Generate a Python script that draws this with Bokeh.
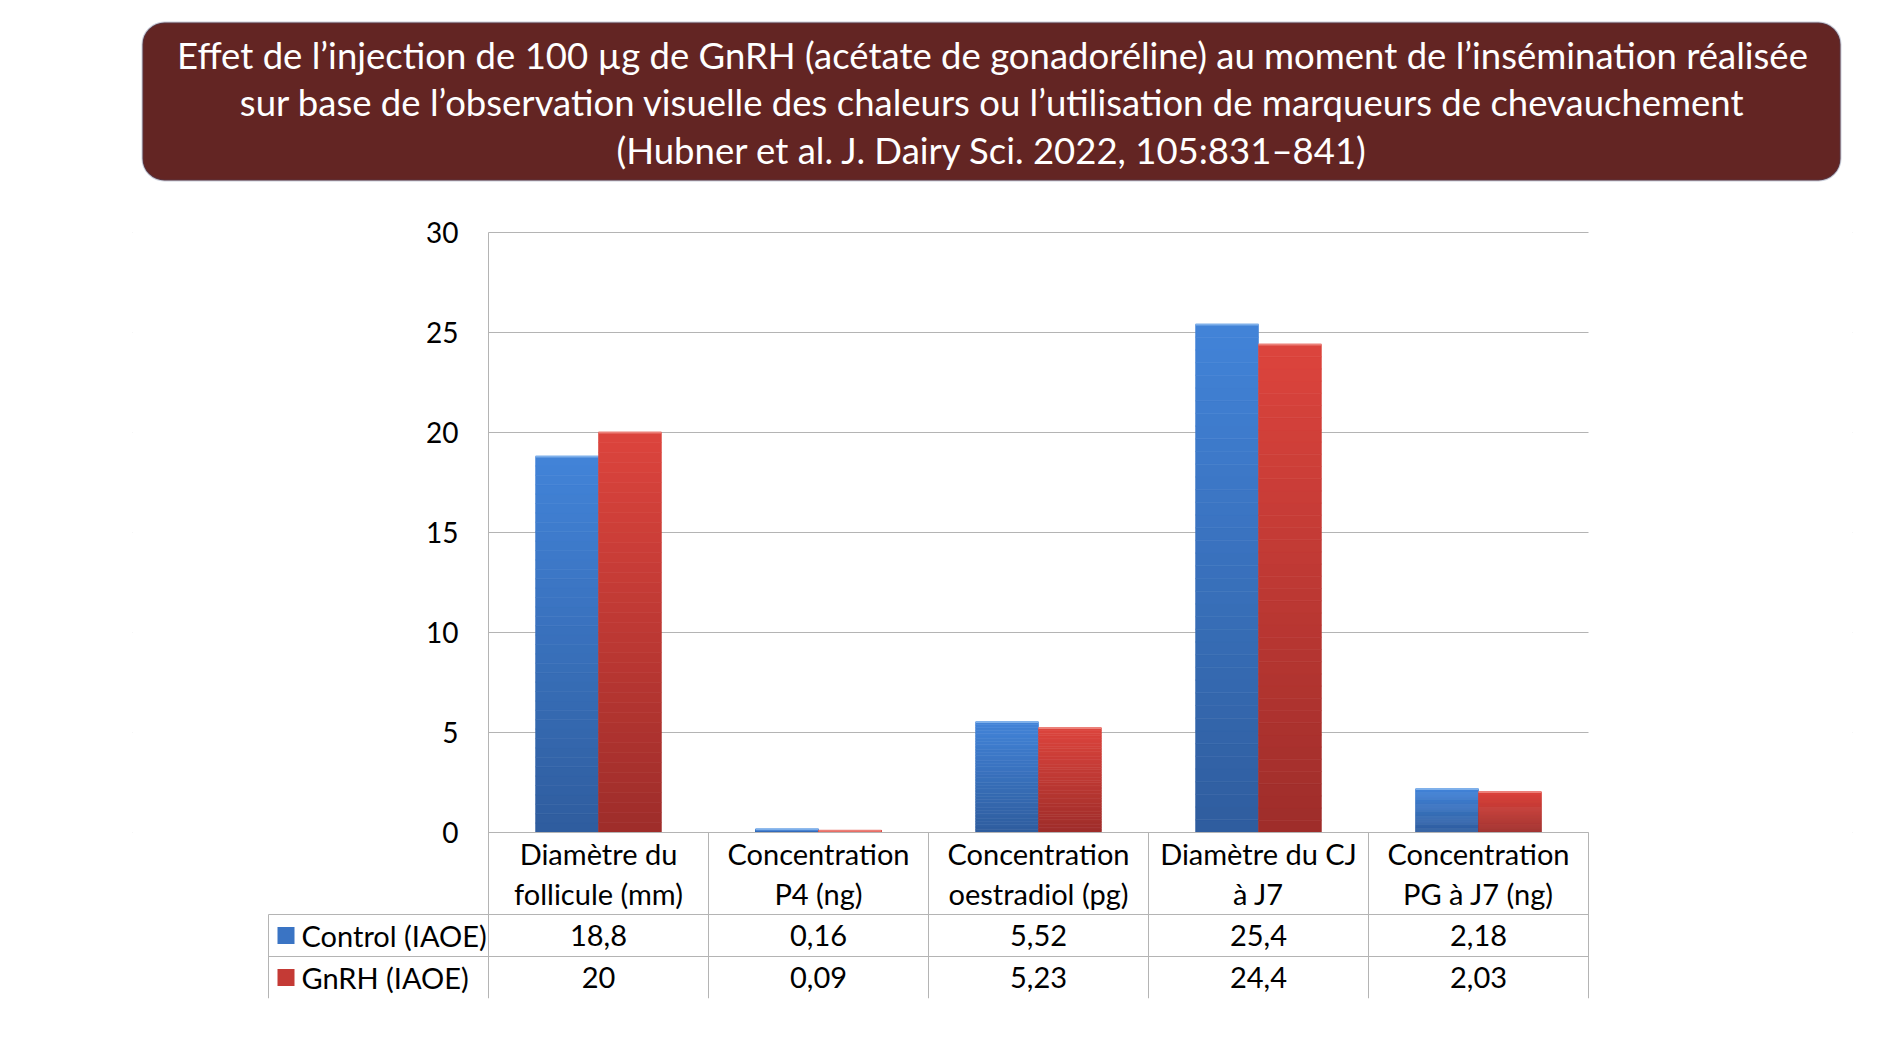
from bokeh.plotting import figure
from bokeh.models import Range1d, FixedTicker, BoxAnnotation, LinearAxis, Grid
from bokeh.embed import file_html
from bokeh.resources import INLINE
from bokeh.core.properties import value

# ---------------- data ----------------
categories = ["Diamètre du\nfollicule (mm)", "Concentration\nP4 (ng)",
              "Concentration\noestradiol (pg)", "Diamètre du CJ\nà J7",
              "Concentration\nPG à J7 (ng)"]
control = [18.8, 0.16, 5.52, 25.4, 2.18]
gnrh = [20, 0.09, 5.23, 24.4, 2.03]
series_names = ["Control (IAOE)", "GnRH (IAOE)"]
y_ticks = [0, 5, 10, 15, 20, 25, 30]
title_lines = [
    "Effet de l’injection de 100 µg de GnRH (acétate de gonadoréline) au moment de l’insémination réalisée",
    "sur base de l’observation visuelle des chaleurs ou l’utilisation de marqueurs de chevauchement",
    "(Hubner et al. J. Dairy Sci. 2022, 105:831–841)",
]

FONT = "Lato"
GRID = "#b4b4b4"

# page geometry helpers (220 px per category, 20 px per unit)
X0, Y0 = 488, 832          # page position of (x=0, y=0)
PX, PY = 220.0, 20.0
def dx(px): return (px - X0) / PX
def dy(py): return (Y0 - py) / PY

YB = dy(998)
p = figure(width=1884, height=1046,
           x_range=Range1d(dx(132), dx(1852)), y_range=Range1d(YB, dy(14)),
           output_backend="svg", toolbar_location=None,
           min_border_left=132, min_border_right=32, min_border_top=14, min_border_bottom=48,
           x_axis_location=None, y_axis_location=None)
p.outline_line_color = None
p.center = []

# ---------------- title ----------------
p.add_layout(BoxAnnotation(left=dx(142), right=dx(1840), top=dy(22), bottom=dy(180),
                           fill_color="#632523", fill_alpha=1.0, level="underlay",
                           line_color="#4a5b82", line_width=2, border_radius=22))
p.text(x=[dx(992)] * 3, y=[dy(54.5), dy(101.8), dy(149)], text=title_lines,
       text_align="center", text_baseline="middle", text_color="white",
       text_font=value(FONT), text_font_size="36.5px")

# ---------------- chart ----------------
p.add_layout(Grid(dimension=1, ticker=FixedTicker(ticks=y_ticks),
                  grid_line_color=GRID, grid_line_width=1))

ya = LinearAxis(ticker=FixedTicker(ticks=y_ticks), fixed_location=0, bounds=(YB, 30),
                axis_line_color=GRID, major_tick_line_color=None, minor_tick_line_color=None,
                major_tick_out=0, major_tick_in=0, major_label_standoff=30,
                major_label_text_font=FONT, major_label_text_font_size="28px",
                major_label_text_color="black")
p.add_layout(ya, "left")

R1, R2 = dy(914), dy(956)
# white covers so grid lines stay within the category columns
p.quad(left=[dx(100), 5], right=[0, dx(1900)], bottom=[R1 + 0.05, -0.5], top=[30.3, 30.3],
       fill_color="white", line_color=None)

# bars with vertical gradient
def lerp(c1, c2, f):
    return "#%02x%02x%02x" % tuple(int(round(a + (b - a) * f)) for a, b in zip(c1, c2))

N = 40
bw = 0.286
series = [(control, -bw / 2, (47, 93, 158), (66, 131, 216), "#7fb0ea"),
          (gnrh, bw / 2, (158, 45, 42), (220, 68, 61), "#ec8079")]
for vals, off, cbot, ctop, chi in series:
    L, R, B, T, C = [], [], [], [], []
    for i, v in enumerate(vals):
        xc = i + 0.5 + off
        for k in range(N):
            L.append(xc - bw / 2)
            R.append(xc + bw / 2)
            B.append(v * k / N)
            T.append(v * (k + 1) / N)
            C.append(lerp(cbot, ctop, (k + 0.5) / N))
    p.quad(left=L, right=R, bottom=B, top=T, fill_color=C, line_color=C, line_width=0.6)
    xs = [i + 0.5 + off for i in range(len(vals))]
    p.segment(x0=[x - bw / 2 for x in xs], x1=[x + bw / 2 for x in xs],
              y0=vals, y1=vals, line_color=chi, line_width=2)

# ---------------- data table ----------------
p.segment(x0=[1, 2, 3, 4, 5], y0=[0] * 5, x1=[1, 2, 3, 4, 5], y1=[YB] * 5,
          line_color=GRID, line_width=1)
p.segment(x0=[-1], y0=[R1], x1=[-1], y1=[YB], line_color=GRID, line_width=1)
p.segment(x0=[0], y0=[0], x1=[5], y1=[0], line_color=GRID, line_width=1)
p.segment(x0=[-1, -1], y0=[R1, R2], x1=[5, 5], y1=[R1, R2], line_color=GRID, line_width=1)

xc = [i + 0.5 for i in range(len(categories))]
p.text(x=xc, y=[dy(873)] * len(categories), text=categories, text_align="center",
       text_baseline="middle", text_color="black", text_font=value(FONT),
       text_font_size="29px", text_line_height=1.17)

def fmt(v):
    return ("%g" % v).replace(".", ",")

row_y = [dy(935), dy(977)]
for vals, yy in zip([control, gnrh], row_y):
    p.text(x=xc, y=[yy] * len(vals), text=[fmt(v) for v in vals], text_align="center",
           text_baseline="middle", text_color="black", text_font=value(FONT),
           text_font_size="29px")

p.scatter(x=[dx(285.5)] * 2, y=row_y, marker="square", size=17,
          fill_color=["#3a74c4", "#c43a35"], line_color=None)
p.text(x=[dx(301)] * 2, y=row_y, text=series_names, text_align="left",
       text_baseline="middle", text_color="black", text_font=value(FONT),
       text_font_size="29px")

open("out.html", "w").write(file_html(p, INLINE))
